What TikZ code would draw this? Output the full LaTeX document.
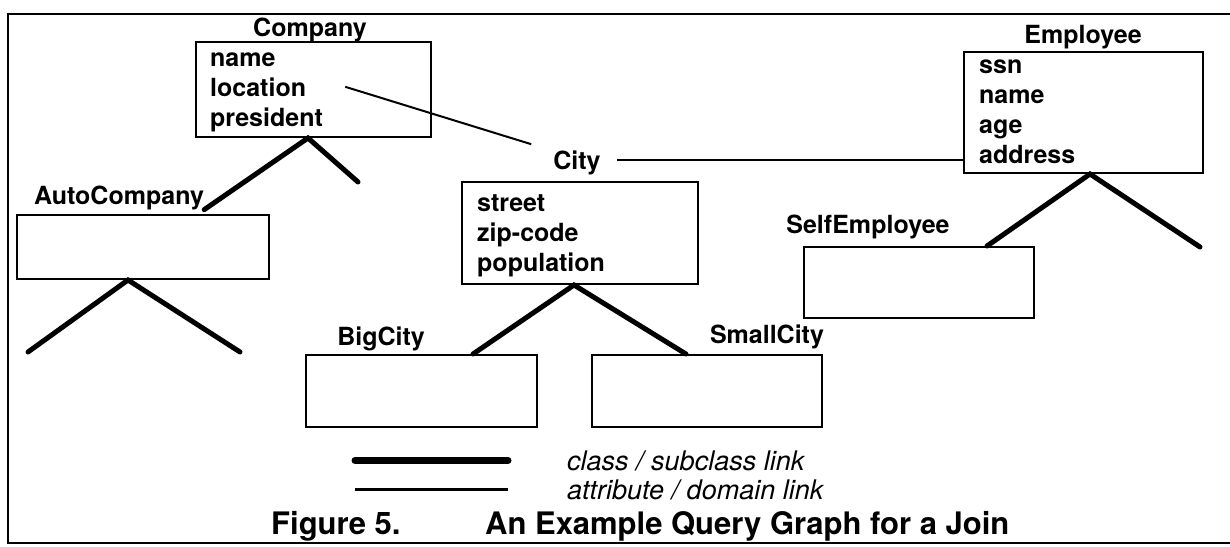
\documentclass[tikz,border=0pt]{standalone}
\usepackage{fontspec}
\setmainfont{TeX Gyre Heros}
\usetikzlibrary{positioning}

\begin{document}
\begin{tikzpicture}[x=1pt,y=-1pt]
  \tikzstyle{class}=[draw,line width=2pt,inner sep=0pt]
  \tikzstyle{title}=[anchor=base,inner sep=0pt,font=\fontsize{25}{30}\selectfont\bfseries]
  \tikzstyle{attr}=[anchor=base west,inner sep=0pt,font=\fontsize{25}{30}\selectfont\bfseries]
  \tikzstyle{isa}=[line width=5pt,line cap=round]
  \tikzstyle{dom}=[line width=2pt]
  \tikzstyle{legend}=[anchor=base west,inner sep=0pt,font=\fontsize{27}{30}\selectfont\itshape]
  \tikzstyle{caption}=[anchor=base west,inner sep=0pt,font=\fontsize{31}{36}\selectfont\bfseries]
  \useasboundingbox (0,0) rectangle (1230,546);
  \draw[line width=2pt] (1240,14) -- (8,14) -- (8,543) -- (1240,543);

  \node[class,minimum width=235pt,minimum height=95pt] (company) at (313.5,89.5) {};
  \node[title] (companyname) at (310,36) {Company};
  \node[attr] (cname) at (210,66) {name};
  \node[attr,below=30pt of cname.base west,anchor=base west] (cloc) {location};
  \node[attr,below=30pt of cloc.base west,anchor=base west] (cpres) {president};

  \node[class,minimum width=239pt,minimum height=121pt] (emp) at (1083.5,112.5) {};
  \node[title] (empname) at (1083,43) {Employee};
  \node[attr] (essn) at (979,73) {ssn};
  \node[attr,below=30pt of essn.base west,anchor=base west] (ename) {name};
  \node[attr,below=30pt of ename.base west,anchor=base west] (eage) {age};
  \node[attr,below=30pt of eage.base west,anchor=base west] (eaddr) {address};

  \node[class,minimum width=236pt,minimum height=102pt] (city) at (580,233) {};
  \node[title] (cityname) at (577,169) {City};
  \node[attr] (street) at (477,211) {street};
  \node[attr,below=30pt of street.base west,anchor=base west] (zip) {zip-code};
  \node[attr,below=30pt of zip.base west,anchor=base west] (pop) {population};

  \node[class,minimum width=252pt,minimum height=64pt] (auto) at (143,247) {};
  \node[title] (autoname) at (119,204) {AutoCompany};
  \node[class,minimum width=230pt,minimum height=71pt] (self) at (919,282.5) {};
  \node[title] (selfname) at (868,233) {SelfEmployee};
  \node[class,minimum width=231pt,minimum height=72pt] (big) at (421.5,391) {};
  \node[title] (bigname) at (381,345) {BigCity};
  \node[class,minimum width=230pt,minimum height=72pt] (small) at (707,391) {};
  \node[title] (smallname) at (767,343) {SmallCity};

  \coordinate (cfree) at (358,182);
  \coordinate (afree1) at (28,352);
  \coordinate (afree2) at (240,352);
  \coordinate (efree) at (1200,247);

  \draw[isa] (autoname.south east) -- (company.south -| 308,0) -- (cfree);
  \draw[isa] (afree1) -- (auto.south -| 128,0) -- (afree2);
  \draw[isa] (big.north -| 473,0) -- (city.south -| 574,0) -- (small.north -| 686,0);
  \draw[isa] (self.north -| 987,0) -- (emp.south -| 1090,0) -- (efree);

  \draw[dom] ([xshift=39pt]cloc.east) -- ([xshift=-22pt,yshift=6pt]cityname.north west);
  \draw[dom] ([xshift=16pt]cityname.east |- eaddr.mid) -- (emp.west |- eaddr.mid);

  \node[legend] (lclass) at (567,470) {class / subclass link};
  \node[legend] (lattr) at (567,499) {attribute / domain link};
  \draw[isa,line width=7pt] (lclass.west -| 355,0) -- (lclass.west -| 508,0);
  \draw[dom,line width=2.5pt] (lattr.west -| 355,0) -- (lattr.west -| 508,0);

  \node[caption] (fig) at (271,534) {Figure 5.};
  \node[caption] (figtitle) at (485,534) {An Example Query Graph for a Join};
\end{tikzpicture}
\end{document}
